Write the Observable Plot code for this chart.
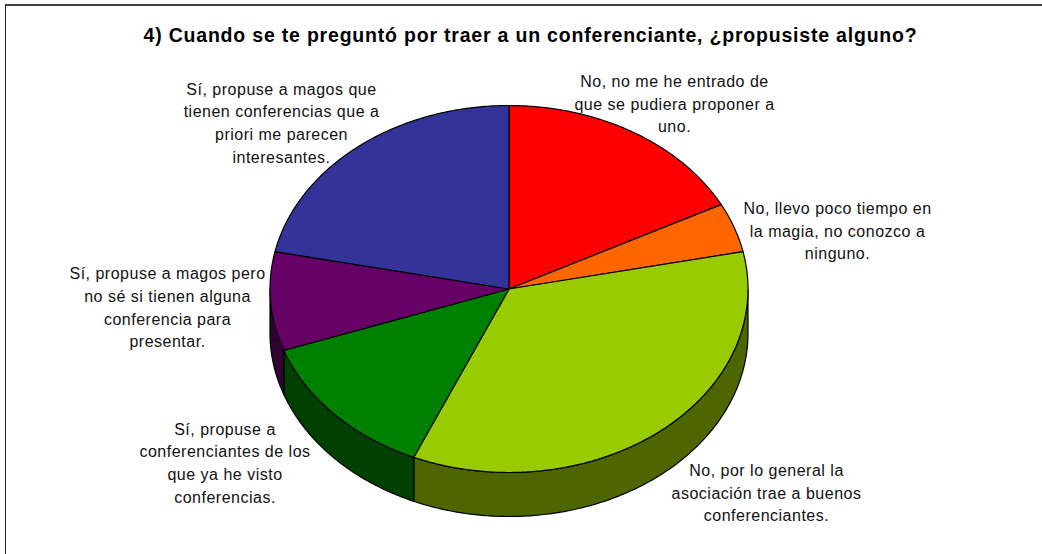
<!DOCTYPE html>
<html><head><meta charset="utf-8">
<script src="https://cdn.jsdelivr.net/npm/d3@7"></script>
<script src="https://cdn.jsdelivr.net/npm/@observablehq/plot@0.6"></script>
<style>
html,body{margin:0;padding:0;background:#fff;overflow:hidden}
#chart{position:relative;width:1042px;height:554px}
#chart svg{display:block;position:absolute;left:0;top:0;background:transparent}
#edge{position:absolute;left:5px;top:4px;right:-5px;bottom:-5px;border-top:2px solid #404040;border-left:1px solid #222}
#chart svg g[aria-label="text"]{letter-spacing:.5px}
#chart svg g[aria-label="text"][font-weight="700"]{letter-spacing:.8px}
</style></head><body>
<div id="chart"><div id="edge"></div></div>
<script>
const titleText = "4) Cuando se te preguntó por traer a un conferenciante, ¿propusiste alguno?";
const categories = [
  "No, no me he entrado de\nque se pudiera proponer a\nuno.",
  "No, llevo poco tiempo en\nla magia, no conozco a\nninguno.",
  "No, por lo general la\nasociación trae a buenos\nconferenciantes.",
  "Sí, propuse a\nconferenciantes de los\nque ya he visto\nconferencias.",
  "Sí, propuse a magos pero\nno sé si tienen alguna\nconferencia para\npresentar.",
  "Sí, propuse a magos que\ntienen conferencias que a\npriori me parecen\ninteresantes."
];
const values = [8, 2, 16, 6, 4, 10];
const topColors = ["#FF0000", "#FF6600", "#99CC00", "#008000", "#660066", "#333399"];
const sideColors = ["#800000", "#803300", "#4D6600", "#004000", "#330033", "#1A1A4D"];
const labelCx = [674, 837, 766, 224.5, 167, 281];
const labelCy = [102, 229, 491, 461, 305.5, 121];

const W = 1042, H = 554;
const cx = 508.5, cy = 288.5, rx = 239, ry = 183.5, depth = 44 / 183.5;
const total = d3.sum(values);
let acc = 0;
const slices = values.map((v, i) => {
  const a0 = acc / total * 2 * Math.PI; acc += v;
  return {a0, a1: acc / total * 2 * Math.PI, i};
});
const rim = (a0, a1, off = 0) => {
  const n = Math.max(2, Math.ceil((a1 - a0) / 0.01));
  return d3.range(n + 1).map(k => {
    const a = a0 + (a1 - a0) * k / n;
    return {x: Math.sin(a), y: -Math.cos(a) + off};
  });
};
const topPoly = s => [{x: 0, y: 0}, ...rim(s.a0, s.a1), {x: 0, y: 0}];
const sidePoly = s => {
  const a0 = Math.max(s.a0, Math.PI / 2), a1 = Math.min(s.a1, 3 * Math.PI / 2);
  if (a1 <= a0) return null;
  const t = rim(a0, a1), b = rim(a0, a1, depth).reverse();
  return [...t, ...b, t[0]];
};
const lineOpts = c => ({x: "x", y: "y", fill: c, stroke: "#000", strokeWidth: 1.2});
const labels = categories.map((t, i) => ({
  t, x: (labelCx[i] - cx) / rx, y: (labelCy[i] - cy) / ry
}));

const plot = Plot.plot({
  width: W, height: H, margin: 0,
  style: {background: "transparent"},
  x: {domain: [-1, 1], range: [cx - rx, cx + rx], axis: null},
  y: {domain: [-1, 1], range: [cy - ry, cy + ry], axis: null},
  marks: [
    ...slices.map(s => {const p = sidePoly(s); return p ? Plot.line(p, lineOpts(sideColors[s.i])) : null;}),
    ...slices.map(s => Plot.line(topPoly(s), lineOpts(topColors[s.i]))),
    Plot.text(labels, {
      x: "x", y: "y", text: "t", textAnchor: "middle", lineAnchor: "middle",
      lineHeight: 1.42, fontSize: 16, fontFamily: "'Liberation Sans', Arial, sans-serif", fill: "#111"
    }),
    Plot.text([titleText], {
      frameAnchor: "top", dx: 9, dy: 28, lineAnchor: "top", fontSize: 19.5, fontWeight: 700,
      fontFamily: "'Liberation Sans', Arial, sans-serif", fill: "#000"
    })
  ]
});
document.getElementById("chart").appendChild(plot);
</script></body></html>
